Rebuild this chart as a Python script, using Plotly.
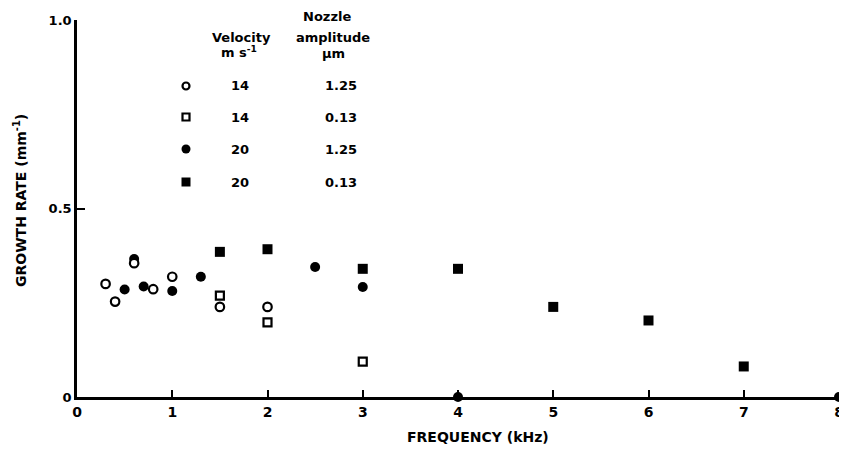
import plotly.graph_objects as go

# ---------------- data ----------------
open_circle_x = [0.3, 0.4, 0.6, 0.8, 1.0, 1.5, 2.0]
open_circle_y = [0.300, 0.253, 0.355, 0.286, 0.319, 0.239, 0.239]

open_square_x = [1.5, 2.0, 3.0]
open_square_y = [0.269, 0.198, 0.094]

filled_circle_x = [0.5, 0.6, 0.7, 1.0, 1.3, 2.5, 3.0, 4.0, 8.0]
filled_circle_y = [0.285, 0.366, 0.293, 0.281, 0.319, 0.345, 0.292, 0.0, 0.0]

filled_square_x = [1.5, 2.0, 3.0, 4.0, 5.0, 6.0, 7.0]
filled_square_y = [0.385, 0.392, 0.340, 0.340, 0.239, 0.203, 0.081]

x_ticks = [0, 1, 2, 3, 4, 5, 6, 7, 8]
y_ticks = [0, 0.5, 1.0]
y_tick_labels = ["0", "0.5", "1.0"]

legend_velocity = ["14", "14", "20", "20"]
legend_amplitude = ["1.25", "0.13", "1.25", "0.13"]
legend_symbols = ["circle-open", "square-open", "circle", "square"]

# ---------------- layout constants ----------------
OFF = 8                      # page body margin
W, H = 847 - 2 * OFF, 472 - 2 * OFF
ML, MR, MT, MB = 69, 0, 12, 67
PW, PH = W - ML - MR, H - MT - MB
FONT = "DejaVu Sans, Liberation Sans, Arial, sans-serif"


def px(xp):
    # screen pixel -> paper x
    return (xp - OFF - ML) / PW


def py(yp):
    # screen pixel -> paper y
    return (H - MB - (yp - OFF)) / PH


fig = go.Figure()

common = dict(mode="markers", showlegend=False, cliponaxis=False, hoverinfo="skip")

fig.add_trace(go.Scatter(x=filled_circle_x, y=filled_circle_y,
                         marker=dict(symbol="circle", size=10, color="black", line=dict(width=0)),
                         **common))
fig.add_trace(go.Scatter(x=filled_square_x, y=filled_square_y,
                         marker=dict(symbol="square", size=10, color="black", line=dict(width=0)),
                         **common))
fig.add_trace(go.Scatter(x=open_square_x, y=open_square_y,
                         marker=dict(symbol="square", size=8, color="white",
                                     line=dict(width=2.2, color="black")),
                         **common))
fig.add_trace(go.Scatter(x=open_circle_x, y=open_circle_y,
                         marker=dict(symbol="circle", size=8.5, color="white",
                                     line=dict(width=2.2, color="black")),
                         **common))

# ---------------- legend (table style) ----------------
ann = []
hdr_font = dict(family=FONT, size=13, color="black", weight="bold")
val_font = dict(family=FONT, size=13, color="black", weight="bold")


def text(xp, yp, t, font):
    ann.append(dict(x=px(xp), y=py(yp), xref="paper", yref="paper", text=t,
                    showarrow=False, xanchor="center", yanchor="middle", font=font))


text(327, 17, "Nozzle", hdr_font)
text(241, 37, "Velocity", hdr_font)
text(333, 37, "amplitude", hdr_font)
text(239, 52, "m s<sup>-1</sup>", hdr_font)
text(333, 53, "\u00b5m", hdr_font)

row_y = [86, 117, 149, 182]
shapes = []
for i, (v, a, s) in enumerate(zip(legend_velocity, legend_amplitude, legend_symbols)):
    yy = row_y[i]
    text(240, yy, v, val_font)
    text(341, yy, a, val_font)
    filled = not s.endswith("open")
    r = 4.5 if filled else 3.5
    base = dict(xref="paper", yref="paper", xsizemode="pixel", ysizemode="pixel",
                xanchor=px(186), yanchor=py(yy),
                x0=-r, x1=r, y0=-r, y1=r,
                line=dict(color="black", width=0 if filled else 2.2),
                fillcolor="black" if filled else "white")
    base["type"] = "circle" if s.startswith("circle") else "rect"
    shapes.append(base)

# axis titles
ann.append(dict(x=px(478), y=py(437), xref="paper", yref="paper",
                text="FREQUENCY (kHz)", showarrow=False, xanchor="center", yanchor="middle",
                font=dict(family=FONT, size=14, color="black", weight="bold")))
ann.append(dict(x=px(20), y=py(201), xref="paper", yref="paper",
                text="GROWTH RATE (mm<sup>-1</sup>)", showarrow=False, textangle=-90,
                xanchor="center", yanchor="middle",
                font=dict(family=FONT, size=14, color="black", weight="bold")))

fig.update_layout(
    width=W, height=H,
    margin=dict(l=ML, r=MR, t=MT, b=MB, pad=0, autoexpand=False),
    paper_bgcolor="white", plot_bgcolor="white",
    annotations=ann, shapes=shapes,
    xaxis=dict(range=[0, 8], tickvals=x_ticks, showgrid=False, zeroline=False,
               showline=True, linecolor="black", linewidth=2.5,
               ticks="inside", ticklen=7, tickwidth=1.5, tickcolor="black",
               automargin=False, ticklabeloverflow="allow",
               tickfont=dict(family=FONT, size=14, color="black", weight="bold")),
    yaxis=dict(range=[0, 1.0], tickvals=y_ticks, ticktext=y_tick_labels,
               showgrid=False, zeroline=False,
               showline=True, linecolor="black", linewidth=2.5,
               ticks="inside", ticklen=8, tickwidth=1.5, tickcolor="black",
               automargin=False,
               tickfont=dict(family=FONT, size=13, color="black", weight="bold")),
)

fig.write_html("out.html")
